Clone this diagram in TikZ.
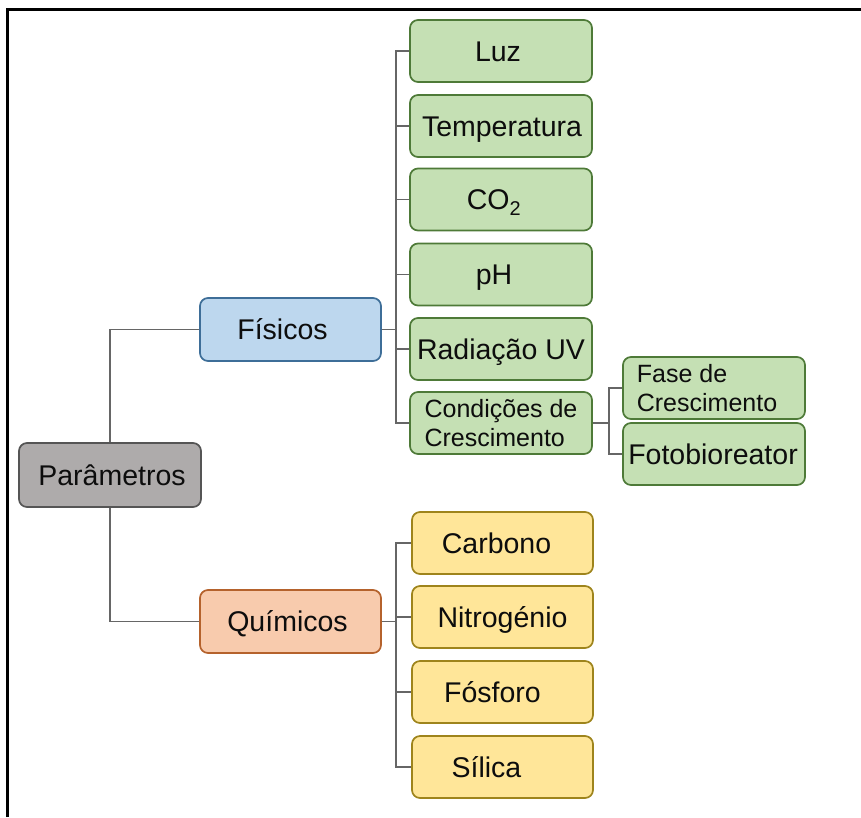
\documentclass[tikz,border=0pt]{standalone}
\usepackage{fontspec}
\setmainfont{Liberation Sans}
% shift the glyphs of a label sideways without changing its width
\newcommand\nudgetext[2]{\hspace*{#1}#2\hspace*{-#1}}
\definecolor{greenfill}{HTML}{C5E0B4}
\definecolor{greenline}{HTML}{4E7A38}
\definecolor{bluefill}{HTML}{BDD7EE}
\definecolor{blueline}{HTML}{3E6E98}
\definecolor{grayfill}{HTML}{AEABAB}
\definecolor{grayline}{HTML}{555555}
\definecolor{orangefill}{HTML}{F8CBAD}
\definecolor{orangeline}{HTML}{B5622C}
\definecolor{yellowfill}{HTML}{FFE699}
\definecolor{yellowline}{HTML}{9E841C}
\definecolor{linkgray}{HTML}{666666}
\begin{document}
\begin{tikzpicture}[x=1pt,y=-1pt,
  box/.style={draw, rounded corners=8pt, line width=1.7pt, inner sep=0pt,
    minimum height=62pt, minimum width=182pt, text=black!95},
  big/.style={font=\fontsize{28.5}{34}\selectfont, text height=20.4pt, text depth=0pt},
  small/.style={font=\fontsize{25}{29.5}\selectfont, align=left},
  rootbox/.style={box, big, fill=grayfill, draw=grayline, minimum height=64pt},
  fisbox/.style={box, big, fill=bluefill, draw=blueline, minimum width=181pt, minimum height=63pt},
  quibox/.style={box, big, fill=orangefill, draw=orangeline, minimum width=181pt, minimum height=63pt},
  greenbox/.style={box, fill=greenfill, draw=greenline},
  yellowbox/.style={box, big, fill=yellowfill, draw=yellowline, minimum width=181pt},
  link/.style={draw=linkgray, line width=1.2pt}
]
\useasboundingbox (0,0) rectangle (861,817);

% page frame (top and left edges)
\draw[line width=3.2pt, line join=miter] (7.5,817) -- (7.5,9.5) -- (861,9.5);

% root and the two main branches
\node[rootbox] (par) at (110,475) {\nudgetext{2pt}{Parâmetros}};
\node[fisbox]  (fis) at (290.5,329.5) {\nudgetext{-8pt}{Físicos}};
\node[quibox]  (qui) at (290.5,621.5) {\nudgetext{-3pt}{Químicos}};

% physical parameters
\node[greenbox, big]   (luz)  at (501,51)    {\nudgetext{-3pt}{Luz}};
\node[greenbox, big]   (temp) at (501,126)   {\nudgetext{1pt}{Temperatura}};
\node[greenbox, big]   (co2)  at (501,199.5) {\nudgetext{-7pt}{CO\textsubscript{2}}};
\node[greenbox, big]   (ph)   at (501,274.5) {\nudgetext{-7pt}{pH}};
\node[greenbox, big]   (uv)   at (501,349)   {Radiação UV};
\node[greenbox, small] (cond) at (501,423)   {Condições de\\Crescimento};
\node[greenbox, small] (fase) at (714,388)   {\nudgetext{-7pt}{Fase de}\\\nudgetext{-7pt}{Crescimento}};
\node[greenbox, big]   (foto) at (714,454)   {\nudgetext{-1pt}{Fotobioreator}};

% chemical parameters
\node[yellowbox] (carb) at (502.5,543) {\nudgetext{-6pt}{Carbono}};
\node[yellowbox] (nitr) at (502.5,617) {Nitrogénio};
\node[yellowbox] (fosf) at (502.5,692) {\nudgetext{-10pt}{Fósforo}};
\node[yellowbox] (sili) at (502.5,767) {\nudgetext{-16pt}{Sílica}};

% vertical buses of the elbow connectors
\coordinate (fbus) at (396,0);
\coordinate (cbus) at (609,0);

% connectors
\draw[link] (par.north) |- (fis.west);
\draw[link] (par.south) |- (qui.west);
\foreach \c in {luz,temp,co2,ph,uv,cond}
  \draw[link] (fis.east) -- (fis.east -| fbus) |- (\c.west);
\foreach \c in {carb,nitr,fosf,sili}
  \draw[link] (qui.east) -- (qui.east -| fbus) |- (\c.west);
\foreach \c in {fase,foto}
  \draw[link] (cond.east) -- (cond.east -| cbus) |- (\c.west);
\end{tikzpicture}
\end{document}
